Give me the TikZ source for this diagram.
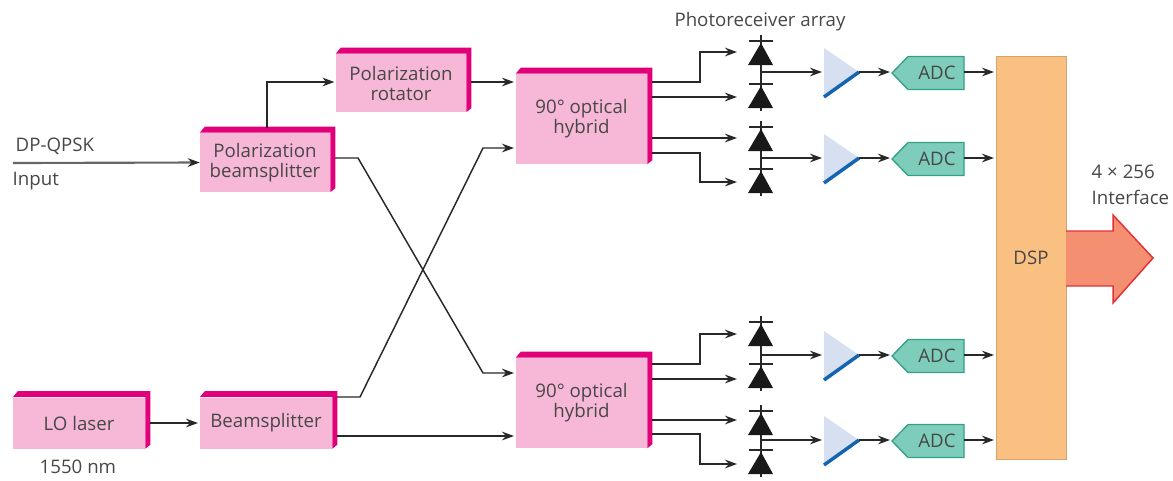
\documentclass[tikz,border=0pt]{standalone}
\usepackage{fontspec}
\setmainfont{Open Sans}
\usetikzlibrary{arrows.meta}
\definecolor{boxpink}{RGB}{246,184,214}
\definecolor{edgepink}{RGB}{226,0,122}
\definecolor{adcgreen}{RGB}{126,205,186}
\definecolor{adcedge}{RGB}{50,160,135}
\definecolor{dspfill}{RGB}{250,192,130}
\definecolor{ampfill}{RGB}{214,224,240}
\definecolor{ampblue}{RGB}{20,100,175}
\definecolor{wire}{RGB}{40,40,40}
\definecolor{outfill}{RGB}{245,143,113}
\definecolor{outedge}{RGB}{225,50,55}
\tikzset{
  wirearrow/.style={draw=wire,line width=1.1pt,-{Stealth[length=9pt,width=6.5pt,color=wire]}},
  wireline/.style={draw=wire,line width=1.1pt},
  label/.style={font=\fontsize{14}{15}\selectfont,text=black!72,align=center},
  pinkbox/.style={fill=boxpink,inner sep=0pt,label},
}
\begin{document}
\begin{tikzpicture}[x=0.75pt,y=-0.75pt]
\useasboundingbox (0,0) rectangle (1173,480);
% boxes
\node[pinkbox,minimum width=97.5pt,minimum height=43.5pt] (rotator) at (401,83) {Polarization\\rotator};
\node[pinkbox,minimum width=97.5pt,minimum height=44.25pt] (pbs) at (265,162.5) {Polarization\\beamsplitter};
\node[pinkbox,minimum width=98.25pt,minimum height=67.5pt] (hybtop) at (581.5,119) {90° optical\\hybrid};
\node[pinkbox,minimum width=98.25pt,minimum height=67.5pt] (hybbot) at (581.5,403) {90° optical\\hybrid};
\node[pinkbox,minimum width=99pt,minimum height=38.25pt] (laser) at (79,423) {LO laser};
\node[pinkbox,minimum width=99pt,minimum height=38.25pt] (split) at (266,423) {Beamsplitter};
\foreach \b in {rotator,pbs,hybtop,hybbot,laser,split} {
  \fill[edgepink] (\b.north west) -- ([shift={(5,-6)}]\b.north west) -- ([shift={(5,-6)}]\b.north east) -- ([shift={(5,-4)}]\b.south east) -- (\b.south east) -- (\b.north east) -- cycle;
}
% texts
\node[label,anchor=west] (dpqpsk) at (11,146) {DP-QPSK};
\node[label,anchor=west] (input) at (8,181) {Input};
\node[label,anchor=west] (nm) at (35,467) {1550 nm};
\node[label] (array) at (760,22) {Photoreceiver array};
\node[label,align=left,anchor=west,font=\fontsize{14}{19.5}\selectfont] (iface) at (1087,185) {4 × 256\\Interface};
% dsp
\node[fill=dspfill,draw=dspfill!85!black,line width=0.5pt,minimum width=52.5pt,minimum height=302pt,inner sep=0pt,label] (dsp) at (1031,257.5) {DSP};
\fill[fill=outfill,draw=outedge,line width=1.1pt] (1066,231) -- (1113,231) -- (1113,215) -- (1153,258) -- (1113,303) -- (1113,286) -- (1066,286);
% diodes, amps, ADCs
\foreach \n/\y/\da/\db in {a/72/41/84,b/158/127/169,c/355/322/364,d/440/411/450} {
  \draw[wireline] (761,\da-6) -- (761,\db+27);
  \draw[wireline] (749,\da) -- (773,\da);
  \draw[wireline] (749,\db) -- (773,\db);
  \fill[black!90] (761,\da+2) -- (773,\da+24) -- (748,\da+24) -- cycle;
  \fill[black!90] (761,\db+2) -- (773,\db+24) -- (748,\db+24) -- cycle;
  \fill[ampfill] (824,\y-24) -- (859,\y) -- (824,\y+25) -- cycle;
  \draw[ampblue,line width=2.6pt] (824,\y+25) -- (859,\y);
  \coordinate (amp\n) at (822,\y);
  \coordinate (ampout\n) at (859,\y);
  \coordinate (join\n) at (761,\y);
  \draw[adcedge,fill=adcgreen,line width=1pt] (892,\y+1) -- (908,\y-15.5) -- (964,\y-15.5) -- (964,\y+17.5) -- (908,\y+17.5) -- cycle;
  \node[label] (adct\n) at (937,\y+1) {ADC};
  \coordinate (adcin\n) at (890,\y);
  \coordinate (adcout\n) at (964,\y);
  \coordinate (dspin\n) at (994,\y);
  \draw[wirearrow] (join\n) -- (amp\n);
  \draw[wirearrow] (ampout\n) -- (adcin\n);
  \draw[wirearrow] (adcout\n) -- (dspin\n);
}
% wires
\coordinate (instart) at (13,163);
\draw[wirearrow,line width=1.6pt,draw=black!60] (instart) -- (pbs.west);
\draw[wirearrow] (267,128) |- ([xshift=-1pt]rotator.west |- 0,82);
\draw[wirearrow] (471,82) -- (514,82);
\draw[wirearrow] (335,158) -- (358,158) -- (483,373) -- (514,373);
\draw[wirearrow] (337,397) -- (360,397) -- (483,148) -- (514,148);
\draw[wirearrow] (337,436) -- (514,436);
\draw[wirearrow] (150,423) -- (198,423);
\draw[wirearrow] (652,82) -- (700,82) |- (737,52);
\draw[wirearrow] (652,97) -- (737,97);
\draw[wirearrow] (652,138) -- (737,138);
\draw[wirearrow] (652,153) -- (700,153) |- (737,182);
\draw[wirearrow] (652,364) -- (700,364) |- (737,334);
\draw[wirearrow] (652,379) -- (737,379);
\draw[wirearrow] (652,420) -- (737,420);
\draw[wirearrow] (652,434) -- (700,434) |- (737,464);
\end{tikzpicture}
\end{document}
